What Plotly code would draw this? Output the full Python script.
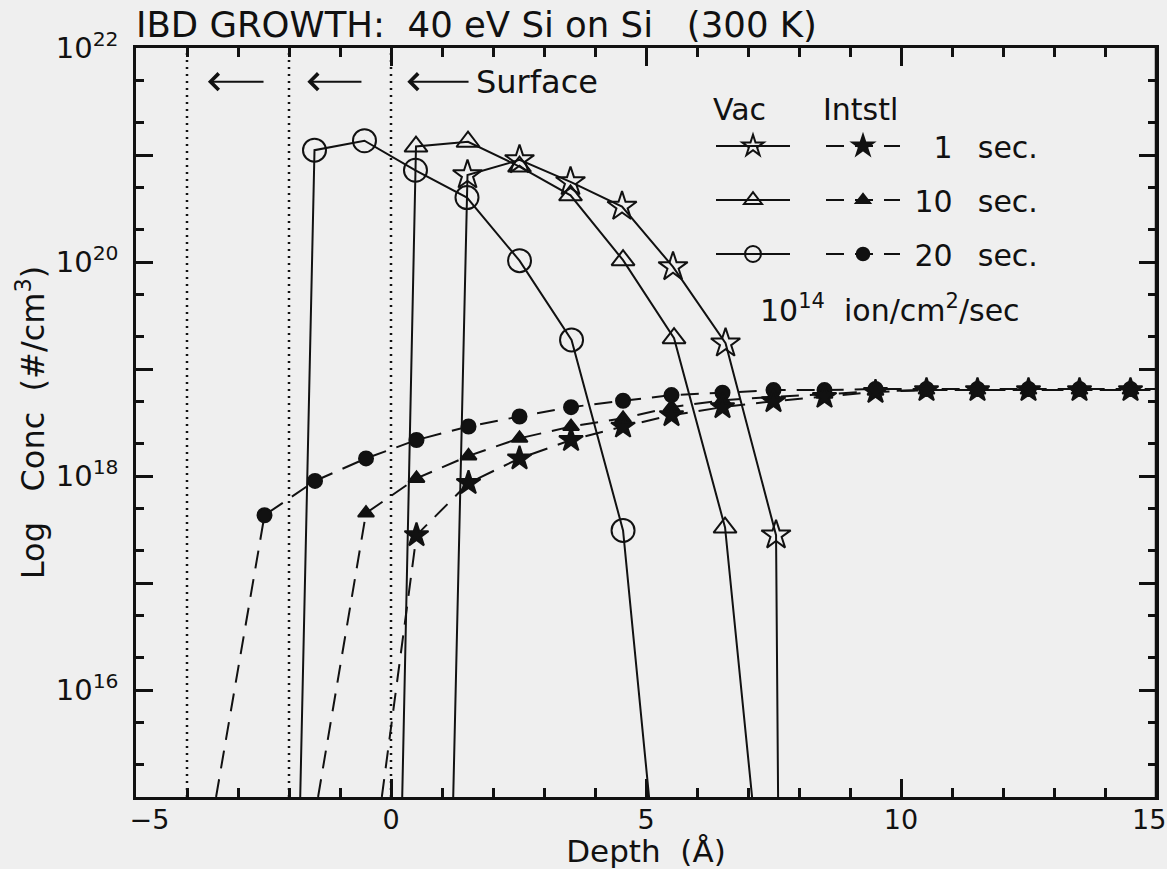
import plotly.graph_objects as go

# ---------------- data ----------------
BOTTOM = 1e15          # profile lines run down to the lower edge of the axis
SURFACES = [-4.0, -2.0, 0.0]   # dotted surface positions (Å)

# Vacancies (open symbols, solid lines)
vac_1s_x = [1.50, 2.52, 3.52, 4.53, 5.53, 6.56, 7.55]
vac_1s_y = [6.5e20, 9.0e20, 5.6e20, 3.3e20, 9.0e19, 1.74e19, 2.8e17]
vac_1s_ends = [1.22, 7.59]

vac_10s_x = [0.49, 1.51, 2.52, 3.52, 4.55, 5.55, 6.55]
vac_10s_y = [1.20e21, 1.33e21, 7.8e20, 4.2e20, 1.04e20, 1.94e19, 3.3e17]
vac_10s_ends = [0.22, 7.08]

vac_20s_x = [-1.50, -0.52, 0.48, 1.49, 2.52, 3.54, 4.55]
vac_20s_y = [1.11e21, 1.36e21, 7.2e20, 4.0e20, 1.03e20, 1.87e19, 3.1e17]
vac_20s_ends = [-1.78, 5.06]

# Interstitials (filled symbols, dashed lines)
int_1s_x = [0.50, 1.52, 2.52, 3.53, 4.55, 5.5, 6.5, 7.5, 8.5, 9.5, 10.5, 11.5, 12.5, 13.5, 14.5]
int_1s_y = [2.8e17, 8.6e17, 1.46e18, 2.17e18, 2.9e18, 3.7e18, 4.4e18, 5.0e18, 5.5e18,
            6.1e18, 6.35e18, 6.35e18, 6.35e18, 6.35e18, 6.35e18]
int_1s_ends = [-0.18, 15.0]

int_10s_x = [-0.49, 0.50, 1.52, 2.52, 3.53, 4.55, 5.5, 6.5, 7.5, 8.5, 9.5, 10.5, 11.5, 12.5, 13.5, 14.5]
int_10s_y = [4.5e17, 9.5e17, 1.54e18, 2.25e18, 2.9e18, 3.46e18, 4.4e18, 5.1e18, 5.5e18,
             5.8e18, 6.2e18, 6.35e18, 6.35e18, 6.35e18, 6.35e18, 6.35e18]
int_10s_ends = [-1.43, 15.0]

int_20s_x = [-2.48, -1.49, -0.49, 0.50, 1.52, 2.52, 3.53, 4.55, 5.5, 6.5, 7.5, 8.5, 9.5,
             10.5, 11.5, 12.5, 13.5, 14.5]
int_20s_y = [4.3e17, 9.0e17, 1.46e18, 2.17e18, 2.9e18, 3.6e18, 4.4e18, 5.05e18, 5.7e18,
             6.0e18, 6.35e18, 6.35e18, 6.5e18, 6.5e18, 6.5e18, 6.5e18, 6.5e18, 6.5e18]
int_20s_ends = [-3.43, 15.0]

x_ticks = [-5, 0, 5, 10, 15]
x_labels = ["\u2002\u2002\u22125", "0", "5", "10", "15\u2002"]
y_decades = [1e15, 1e16, 1e17, 1e18, 1e19, 1e20, 1e21, 1e22]
y_labels = ["", "10<sup>16</sup>", "", "10<sup>18</sup>", "", "10<sup>20</sup>", "", "10<sup>22</sup>"]
sec_labels = ["\u00a0\u20071\u00a0\u00a0\u2009sec.", "\u00a010\u00a0\u00a0\u2009sec.",
              "\u00a020\u00a0\u00a0\u2009sec."]

# ---------------- figure ----------------
INK = "#111111"
BG = "#efefef"
FONT = "DejaVu Sans"
W, H = 1167, 869
L, R, T, B = 136, 11, 48, 72
PW, PH = W - L - R, H - T - B

fig = go.Figure()


def profile(xs, ys, ends, right_level, symbol, msize, dash, legend, name, rank):
    """Line runs from the axis bottom, through the points, to its end."""
    ly = [BOTTOM] + ys + ([ys[-1]] if right_level else [BOTTOM])
    lx = [ends[0]] + xs + [ends[1]]
    sizes = [0] + [msize] * len(xs) + [0]
    fig.add_trace(go.Scatter(
        x=lx, y=ly, mode="lines+markers", name=name,
        line=dict(color=INK, width=2, dash=dash),
        marker=dict(symbol=symbol, size=sizes, color=INK, opacity=1,
                    line=dict(color=INK, width=2)),
        legend=legend, legendgroup=legend + name, legendrank=rank,
    ))


for s in SURFACES:
    fig.add_trace(go.Scatter(x=[s, s], y=[BOTTOM, 1e22], mode="lines",
                             line=dict(color=INK, width=2.5, dash="2px,5px"),
                             showlegend=False, hoverinfo="skip"))

DASH = "18px,11px"
profile(vac_20s_x, vac_20s_y, vac_20s_ends, False, "circle-open", 23, "solid", "legend", " ", 3)
profile(vac_10s_x, vac_10s_y, vac_10s_ends, False, "triangle-up-open", 20, "solid", "legend", "  ", 2)
profile(vac_1s_x, vac_1s_y, vac_1s_ends, False, "star-open", 22, "solid", "legend", "   ", 1)
profile(int_20s_x, int_20s_y, int_20s_ends, True, "circle", 14, DASH, "legend2", sec_labels[2], 3)
profile(int_10s_x, int_10s_y, int_10s_ends, True, "triangle-up", 14, DASH, "legend2", sec_labels[1], 2)
profile(int_1s_x, int_1s_y, int_1s_ends, True, "star", 18, DASH, "legend2", sec_labels[0], 1)

minor_y = []
for d in y_decades[:-1]:
    minor_y += [2 * d, 5 * d]

axis_common = dict(showline=True, linecolor=INK, linewidth=2.5, mirror="ticks",
                   ticks="inside", tickcolor=INK, tickwidth=2.5, showgrid=False,
                   zeroline=False, ticklabeloverflow="allow", automargin=False)


def px_x(p):  # absolute pixel -> paper x
    return (p - L) / PW


def px_y(p):  # absolute pixel -> paper y
    return 1 - (p - T) / PH


fig.update_layout(
    width=W, height=H,
    margin=dict(l=L, r=R, t=T, b=B, autoexpand=False),
    paper_bgcolor=BG, plot_bgcolor=BG,
    font=dict(family=FONT, color=INK, size=28),
    title=dict(text="IBD GROWTH:\u00a0\u00a040 eV Si on Si\u00a0\u00a0\u00a0(300 K)",
               x=0, xref="paper", xanchor="left", y=1 - 25 / H, yref="container",
               yanchor="middle", font=dict(size=35.5, color=INK, family=FONT)),
    xaxis=dict(range=[-5, 15], tickmode="array", tickvals=x_ticks, ticktext=x_labels,
               ticklen=18, ticklabelstandoff=-3,
               tickfont=dict(size=27, color=INK, family=FONT),
               minor=dict(dtick=1, ticks="inside", ticklen=9, tickwidth=2.5, tickcolor=INK),
               title=dict(text="Depth\u00a0 (Å)", font=dict(size=31, family=FONT), standoff=8),
               **axis_common),
    yaxis=dict(type="log", range=[15, 22], tickmode="array", tickvals=y_decades,
               ticktext=y_labels, ticklen=17, ticklabelstandoff=9,
               tickfont=dict(size=29, color=INK, family=FONT),
               minor=dict(tickmode="array", tickvals=minor_y, ticks="inside", ticklen=8,
                          tickwidth=2.5, tickcolor=INK),
               title=dict(text="Log\u00a0\u00a0\u00a0Conc\u00a0\u00a0(#/cm<sup>3</sup>)",
                          font=dict(size=32, family=FONT), standoff=2),
               **axis_common),
    legend=dict(x=px_x(711), y=px_y(81), xanchor="left", yanchor="top",
                bgcolor="rgba(0,0,0,0)", itemwidth=74, tracegroupgap=12,
                title=dict(text="Vac", font=dict(size=30)), font=dict(size=30),
                itemclick=False),
    legend2=dict(x=px_x(821), y=px_y(81), xanchor="left", yanchor="top",
                 bgcolor="rgba(0,0,0,0)", itemwidth=74, tracegroupgap=12,
                 title=dict(text="Intstl", font=dict(size=30)), font=dict(size=30),
                 itemclick=False),
    showlegend=True,
    shapes=[dict(type="line", xref="paper", yref="paper", x0=1, x1=1, y0=0, y1=1,
                 line=dict(color=INK, width=2.5))],
)

arrow_y = 21.685
arrows = [(-3.59, -2.47), (-1.64, -0.55), (0.32, 1.55)]
for head, tail in arrows:
    fig.add_annotation(x=head, y=arrow_y, ax=tail, ay=arrow_y, xref="x", yref="y",
                       axref="x", ayref="y", text="", showarrow=True, arrowhead=4,
                       arrowsize=1.6, arrowwidth=2, arrowcolor=INK)
fig.add_annotation(x=1.63, y=arrow_y, xref="x", yref="y", text="Surface", showarrow=False,
                   xanchor="left", yanchor="middle", font=dict(size=32, color=INK))
fig.add_annotation(x=px_x(890), y=px_y(309), xref="paper", yref="paper",
                   text="10<sup>14</sup>\u00a0 ion/cm<sup>2</sup>/sec", showarrow=False,
                   xanchor="center", yanchor="middle", font=dict(size=30, color=INK))

fig.write_html(
    "out.html",
    config={"displayModeBar": False},
    post_script="document.body.style.margin='0px';document.body.style.background='#efefef';",
)
